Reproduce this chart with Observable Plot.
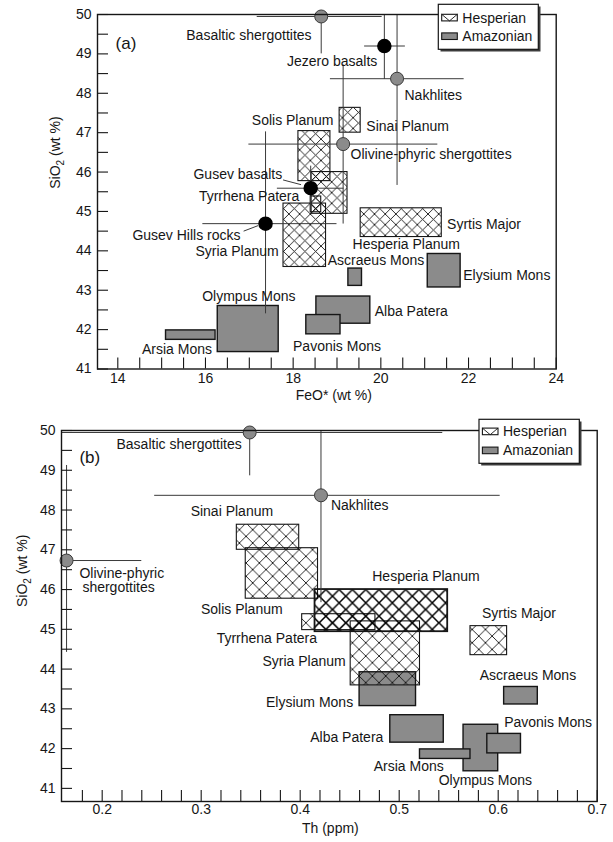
<!DOCTYPE html>
<html>
<head>
<meta charset="utf-8">
<script src="https://cdn.jsdelivr.net/npm/d3@7"></script>
<script src="https://cdn.jsdelivr.net/npm/@observablehq/plot@0.6"></script>
<style>
  html, body { margin: 0; padding: 0; background: #fff; }
  #chart { width: 613px; height: 842px; position: relative; overflow: hidden; background: #fff; }
  #chart svg { display: block; max-width: none; }
</style>
</head>
<body>
<div id="chart"></div>
<script>
// ---------------- DATA ----------------
// Volcanic provinces (GRS regions): ranges of FeO*, Th and SiO2
const regionNames   = ["Sinai Planum", "Solis Planum", "Hesperia Planum", "Tyrrhena Patera", "Syria Planum", "Syrtis Major",
                       "Olympus Mons", "Arsia Mons", "Alba Patera", "Pavonis Mons", "Ascraeus Mons", "Elysium Mons"];
const regionAges    = ["Hesperian", "Hesperian", "Hesperian", "Hesperian", "Hesperian", "Hesperian",
                       "Amazonian", "Amazonian", "Amazonian", "Amazonian", "Amazonian", "Amazonian"];
const regionFeOMin  = [19.06, 18.12, 18.42, 18.40, 17.78, 19.54, 16.28, 15.10, 18.53, 18.30, 19.26, 21.07];
const regionFeOMax  = [19.54, 18.85, 19.24, 18.64, 18.75, 21.39, 17.67, 16.23, 19.76, 19.08, 19.57, 21.82];
const regionThMin   = [0.336, 0.345, 0.415, 0.402, 0.451, 0.572, 0.565, 0.521, 0.491, 0.589, 0.606, 0.460];
const regionThMax   = [0.399, 0.418, 0.549, 0.476, 0.521, 0.609, 0.600, 0.572, 0.545, 0.623, 0.640, 0.517];
const regionSiO2Min = [47.00, 45.77, 44.94, 44.98, 43.59, 44.35, 41.43, 41.74, 42.15, 41.88, 43.11, 43.07];
const regionSiO2Max = [47.63, 47.04, 46.00, 45.38, 45.20, 45.08, 42.60, 41.98, 42.84, 42.37, 43.55, 43.92];

// Rocks and meteorites (mean with error bar ends), panel (a)
const rockNames    = ["Basaltic shergottites", "Nakhlites", "Olivine-phyric shergottites", "Jezero basalts", "Gusev basalts", "Gusev Hills rocks"];
const rockKinds    = ["meteorite", "meteorite", "meteorite", "rover", "rover", "rover"];
const rockFeO      = [18.64, 20.37, 19.14, 20.08, 18.40, 17.37];
const rockFeOMin   = [17.18, 18.85, 16.99, 19.63, 17.64, 15.94];
const rockFeOMax   = [20.03, 21.90, 21.30, 20.56, 19.16, 19.00];
const rockSiO2     = [49.95, 48.37, 46.71, 49.20, 45.59, 44.69];
const rockSiO2Min  = [49.00, 45.66, 44.68, 48.35, 45.00, 42.40];
const rockSiO2Max  = [50.90, 51.08, 48.72, 50.05, 46.15, 47.02];

// Meteorites, panel (b)
const meteoriteNames   = ["Basaltic shergottites", "Nakhlites", "Olivine-phyric shergottites"];
const meteoriteTh      = [0.349, 0.421, 0.164];
const meteoriteThMin   = [0.154, 0.253, 0.088];
const meteoriteThMax   = [0.544, 0.602, 0.240];
const meteoriteSiO2    = [49.95, 48.37, 46.73];
const meteoriteSiO2Min = [48.86, 45.67, 44.42];
const meteoriteSiO2Max = [51.04, 51.07, 49.12];

// Tick labels
const feoTickLabels  = [14, 16, 18, 20, 22, 24];
const thTickLabels   = [0.2, 0.3, 0.4, 0.5, 0.6, 0.7];
const sio2TickLabels = [41, 42, 43, 44, 45, 46, 47, 48, 49, 50];
const ageNames = ["Hesperian", "Amazonian"];

// Text annotations (data coordinates)
const labelsA = [
  {name: "Basaltic shergottites", x: 18.42, y: 49.47, anchor: "end"},
  {name: "Jezero basalts", x: 19.92, y: 48.81, anchor: "end"},
  {name: "Nakhlites", x: 20.54, y: 47.95, anchor: "start"},
  {name: "Solis Planum", x: 18.92, y: 47.31, anchor: "end"},
  {name: "Sinai Planum", x: 19.67, y: 47.15, anchor: "start"},
  {name: "Olivine-phyric shergottites", x: 19.31, y: 46.44, anchor: "start"},
  {name: "Gusev basalts", x: 17.75, y: 45.93, anchor: "end"},
  {name: "Tyrrhena Patera", x: 18.14, y: 45.37, anchor: "end"},
  {name: "Gusev Hills rocks", x: 16.80, y: 44.38, anchor: "end"},
  {name: "Syria Planum", x: 17.67, y: 43.99, anchor: "end"},
  {name: "Syrtis Major", x: 21.51, y: 44.68, anchor: "start"},
  {name: "Hesperia Planum", x: 20.58, y: 44.16, anchor: "middle"},
  {name: "Ascraeus Mons", x: 19.89, y: 43.76, anchor: "middle"},
  {name: "Elysium Mons", x: 21.88, y: 43.38, anchor: "start"},
  {name: "Alba Patera", x: 19.86, y: 42.46, anchor: "start"},
  {name: "Pavonis Mons", x: 19.00, y: 41.57, anchor: "middle"},
  {name: "Olympus Mons", x: 16.99, y: 42.83, anchor: "middle"},
  {name: "Arsia Mons", x: 15.35, y: 41.50, anchor: "middle"}
];
const leadersA = [
  {x1: 17.77, y1: 45.80, x2: 18.18, y2: 45.68},
  {x1: 16.87, y1: 44.50, x2: 17.20, y2: 44.64}
];
const labelsB = [
  {name: "Basaltic shergottites", x: 0.341, y: 49.65, anchor: "end"},
  {name: "Nakhlites", x: 0.431, y: 48.11, anchor: "start"},
  {name: "Sinai Planum", x: 0.331, y: 47.97, anchor: "middle"},
  {name: "Olivine-phyric", x: 0.177, y: 46.41, anchor: "start"},
  {name: "shergottites", x: 0.180, y: 46.04, anchor: "start"},
  {name: "Solis Planum", x: 0.341, y: 45.50, anchor: "middle"},
  {name: "Hesperia Planum", x: 0.527, y: 46.33, anchor: "middle"},
  {name: "Syrtis Major", x: 0.621, y: 45.40, anchor: "middle"},
  {name: "Tyrrhena Patera", x: 0.417, y: 44.77, anchor: "end"},
  {name: "Syria Planum", x: 0.446, y: 44.18, anchor: "end"},
  {name: "Elysium Mons", x: 0.4535, y: 43.17, anchor: "end"},
  {name: "Ascraeus Mons", x: 0.630, y: 43.84, anchor: "middle"},
  {name: "Pavonis Mons", x: 0.606, y: 42.65, anchor: "start"},
  {name: "Alba Patera", x: 0.484, y: 42.27, anchor: "end"},
  {name: "Arsia Mons", x: 0.545, y: 41.55, anchor: "end"},
  {name: "Olympus Mons", x: 0.587, y: 41.20, anchor: "middle"}
];

// ---------------- BUILD ----------------
const FONT = "'Liberation Sans', Arial, Helvetica, sans-serif";
const ink = "#161616";
const gray = "#8b8b8b";

const boxesA = regionNames.map((name, i) => ({name, age: regionAges[i], x1: regionFeOMin[i], x2: regionFeOMax[i], y1: regionSiO2Min[i], y2: regionSiO2Max[i]}));
const boxesB = regionNames.map((name, i) => ({name, age: regionAges[i], x1: regionThMin[i], x2: regionThMax[i], y1: regionSiO2Min[i], y2: regionSiO2Max[i]}));
const ptsA = rockNames.map((name, i) => ({name, kind: rockKinds[i], x: rockFeO[i], xlo: rockFeOMin[i], xhi: rockFeOMax[i], y: rockSiO2[i], ylo: rockSiO2Min[i], yhi: rockSiO2Max[i]}));
const ptsB = meteoriteNames.map((name, i) => ({name, kind: "meteorite", x: meteoriteTh[i], xlo: meteoriteThMin[i], xhi: meteoriteThMax[i], y: meteoriteSiO2[i], ylo: meteoriteSiO2Min[i], yhi: meteoriteSiO2Max[i]}));

const feoMinor = d3.range(14, 24.001, 0.5);
const thMinor = d3.range(0.18, 0.7001, 0.02);
const sio2Minor = d3.range(41, 50.001, 0.5);

function labelMarks(labels) {
  return ["start", "middle", "end"].map(a =>
    Plot.text(labels.filter(d => d.anchor === a), {x: "x", y: "y", text: "name", textAnchor: a, fontSize: 14, fill: ink}));
}

function boxMarks(boxes, hatchId, heavyName, heavyHatchId) {
  const amaz = ["Olympus Mons", "Arsia Mons", "Alba Patera", "Pavonis Mons", "Ascraeus Mons", "Elysium Mons"];
  const amazBoxes = amaz.map(n => boxes.find(b => b.name === n)).filter(b => b && b.age === "Amazonian");
  const hesp = boxes.filter(b => b.age === "Hesperian" && b.name !== heavyName);
  const heavy = boxes.filter(b => b.age === "Hesperian" && b.name === heavyName);
  return [
    Plot.rect(amazBoxes, {x1: "x1", x2: "x2", y1: "y1", y2: "y2", fill: gray, stroke: ink, strokeWidth: 1.4}),
    Plot.rect(hesp, {x1: "x1", x2: "x2", y1: "y1", y2: "y2", fill: `url(#${hatchId})`, stroke: ink, strokeWidth: 1.1}),
    Plot.rect(heavy, {x1: "x1", x2: "x2", y1: "y1", y2: "y2", fill: `url(#${heavyHatchId || hatchId})`, stroke: ink, strokeWidth: heavyHatchId ? 1.8 : 1.1})
  ];
}

function pointMarks(pts) {
  return [
    Plot.ruleY(pts, {y: "y", x1: "xlo", x2: "xhi", stroke: "#3a3a3a", strokeWidth: 1, clip: true}),
    Plot.ruleX(pts, {x: "x", y1: "ylo", y2: "yhi", stroke: "#3a3a3a", strokeWidth: 1, clip: true}),
    Plot.dot(pts.filter(d => d.kind === "meteorite"), {x: "x", y: "y", r: 6.5, fill: gray, stroke: "#3a3a3a", strokeWidth: 1}),
    Plot.dot(pts.filter(d => d.kind === "rover"), {x: "x", y: "y", r: 6.5, fill: "#000", stroke: "#000"})
  ];
}

function addDefs(svg, patterns) {
  const defs = d3.select(svg).insert("defs", ":first-child");
  for (const p of patterns) {
    const pat = defs.append("pattern").attr("id", p.id).attr("patternUnits", "userSpaceOnUse")
      .attr("width", p.size).attr("height", p.size);
    pat.append("path")
      .attr("d", `M-1,-1L${p.size + 1},${p.size + 1}M${p.size + 1},-1L-1,${p.size + 1}`)
      .attr("stroke", p.color).attr("stroke-width", p.width).attr("fill", "none");
  }
}

function subscriptSiO2(svg) {
  d3.select(svg).selectAll("text").filter(function() { return this.textContent === "SiO2 (wt %)"; })
    .each(function() {
      const t = d3.select(this);
      t.text(null);
      t.append("tspan").text("SiO");
      t.append("tspan").attr("dy", 4).attr("font-size", 10).text("2");
      t.append("tspan").attr("dy", -4).text(" (wt %)");
    });
}

function drawLegend(svg, b) {
  const g = d3.select(svg).append("g").attr("font-family", FONT).attr("font-size", 14)
    .attr("fill", ink).attr("text-anchor", "start");
  g.append("rect").attr("x", b.x + 2.2).attr("y", b.y + 2.2).attr("width", b.w).attr("height", b.h).attr("fill", "#3c3c3c");
  g.append("rect").attr("x", b.x).attr("y", b.y).attr("width", b.w).attr("height", b.h).attr("fill", "#fff").attr("stroke", ink).attr("stroke-width", 1.2);
  ageNames.forEach((name, i) => {
    const sy = b.y + b.sy[i];
    const sw = g.append("rect").attr("x", b.x + 3.4).attr("y", sy).attr("width", 15.6).attr("height", 6.6)
      .attr("stroke", ink).attr("stroke-width", 1.1);
    if (name === "Hesperian") {
      sw.attr("fill", "#fff");
      g.append("path").attr("d", `M${b.x + 3.4},${sy}L${b.x + 11.2},${sy + 6.6}L${b.x + 19},${sy}`)
        .attr("stroke", ink).attr("stroke-width", 0.9).attr("fill", "none");
    } else {
      sw.attr("fill", gray);
    }
    g.append("text").attr("x", b.x + 24).attr("y", sy + 3.3).attr("dy", "0.35em")
      .attr("text-anchor", "start").text(name);
  });
}

// ---------- Panel (a) ----------
const A = {width: 613, height: 410, top: 14, bottom: 41.5, left: 97, right: 57.3};
const plotA = Plot.plot({
  width: A.width, height: A.height,
  marginTop: A.top, marginBottom: A.bottom, marginLeft: A.left, marginRight: A.right,
  x: {domain: [13.537, 24], axis: null},
  y: {domain: [41, 50], axis: null},
  style: {fontFamily: FONT, fontSize: "14px", color: ink, background: "#fff", overflow: "visible"},
  marks: [
    ...boxMarks(boxesA, "hatchA"),
    ...pointMarks(ptsA),
    Plot.link(leadersA, {x1: "x1", y1: "y1", x2: "x2", y2: "y2", stroke: "#3a3a3a", strokeWidth: 1}),
    Plot.tickX(feoMinor, {x: d => d, insetTop: (A.height - A.top - A.bottom) - 11, stroke: ink, strokeWidth: 1.1}),
    Plot.tickY(sio2Minor, {y: d => d, insetRight: (A.width - A.left - A.right) - 11, stroke: ink, strokeWidth: 1.1}),
    Plot.frame({stroke: ink, strokeWidth: 1.4}),
    Plot.text(feoTickLabels, {x: d => d, text: d => String(d), frameAnchor: "bottom", dy: 13.5, fontSize: 14, fill: ink}),
    Plot.text(sio2TickLabels, {y: d => d, text: d => String(d), frameAnchor: "left", dx: -6, textAnchor: "end", fontSize: 14, fill: ink}),
    Plot.text(["FeO* (wt %)"], {text: d => d, frameAnchor: "bottom", dy: 31, dx: 7, fontSize: 14, fill: ink}),
    Plot.text(["SiO2 (wt %)"], {text: d => d, frameAnchor: "left", rotate: -90, dx: -42, dy: -3, fontSize: 14, fill: ink}),
    Plot.text(["(a)"], {text: d => d, x: 13.95, y: 49.25, textAnchor: "start", fontSize: 17, fill: ink}),
    ...labelMarks(labelsA)
  ]
});
addDefs(plotA, [{id: "hatchA", size: 10.7, width: 0.9, color: "#111"}]);
subscriptSiO2(plotA);
drawLegend(plotA, {x: 438.3, y: 4.3, w: 100, h: 45, sy: [10, 28.6]});
document.getElementById("chart").appendChild(plotA);

// ---------- Panel (b) ----------
const B = {width: 613, height: 432, top: 20, bottom: 41, left: 61, right: 16.3};
const plotB = Plot.plot({
  width: B.width, height: B.height,
  marginTop: B.top, marginBottom: B.bottom, marginLeft: B.left, marginRight: B.right,
  x: {domain: [0.1589, 0.7], axis: null},
  y: {domain: [40.67, 50], axis: null},
  style: {fontFamily: FONT, fontSize: "14px", color: ink, background: "#fff", overflow: "visible"},
  marks: [
    ...boxMarks(boxesB, "hatchB", "Hesperia Planum", "hatchBheavy"),
    ...pointMarks(ptsB),
    Plot.tickX(thMinor, {x: d => d, insetTop: (B.height - B.top - B.bottom) - 11, stroke: ink, strokeWidth: 1.1}),
    Plot.tickY(sio2Minor, {y: d => d, insetRight: (B.width - B.left - B.right) - 11, stroke: ink, strokeWidth: 1.1}),
    Plot.frame({stroke: ink, strokeWidth: 1.4}),
    Plot.text(thTickLabels, {x: d => d, text: d => String(d), frameAnchor: "bottom", dy: 12.5, fontSize: 14, fill: ink}),
    Plot.text(sio2TickLabels, {y: d => d, text: d => String(d), frameAnchor: "left", dx: -6, textAnchor: "end", fontSize: 14, fill: ink}),
    Plot.text(["Th (ppm)"], {text: d => d, frameAnchor: "bottom", dy: 31, dx: 1, fontSize: 14, fill: ink}),
    Plot.text(["SiO2 (wt %)"], {text: d => d, frameAnchor: "left", rotate: -90, dx: -39, dy: -9, fontSize: 14, fill: ink}),
    Plot.text(["(b)"], {text: d => d, x: 0.177, y: 49.31, textAnchor: "start", fontSize: 17, fill: ink}),
    ...labelMarks(labelsB)
  ]
});
addDefs(plotB, [
  {id: "hatchB", size: 13.3, width: 0.9, color: "#111"},
  {id: "hatchBheavy", size: 13.3, width: 1.5, color: "#000"}
]);
subscriptSiO2(plotB);
drawLegend(plotB, {x: 479, y: 9.3, w: 100.3, h: 44, sy: [8.8, 27.8]});
document.getElementById("chart").appendChild(plotB);
</script>
</body>
</html>
